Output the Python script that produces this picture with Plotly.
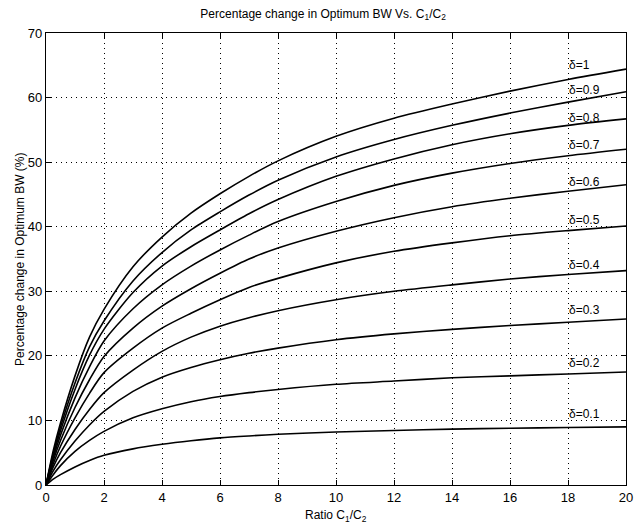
import plotly.graph_objects as go

ratio = [0, 0.25, 0.5, 1, 1.5, 2, 3, 4, 5, 6, 7, 8, 10, 12, 14, 16, 18, 20]

deltas = ["1", "0.9", "0.8", "0.7", "0.6", "0.5", "0.4", "0.3", "0.2", "0.1"]

d10 = [0, 5.3, 9.6, 16.9, 22.9, 27.2, 33.8, 38.4, 42.1, 45.1, 47.8, 50.2, 54.0, 56.8, 59.0, 61.0, 62.8, 64.4]
d09 = [0, 4.9, 9.0, 15.8, 21.4, 25.4, 31.6, 36.0, 39.5, 42.3, 44.9, 47.2, 50.8, 53.5, 55.7, 57.6, 59.3, 60.9]
d08 = [0, 4.6, 8.4, 14.8, 20.1, 24.1, 29.8, 33.9, 36.9, 39.5, 42.0, 44.2, 47.8, 50.5, 52.7, 54.4, 55.7, 56.7]
d07 = [0, 4.2, 7.7, 13.5, 18.3, 22.3, 27.3, 31.0, 33.9, 36.4, 38.7, 40.8, 43.9, 46.4, 48.3, 49.8, 51.0, 52.0]
d06 = [0, 3.8, 6.9, 12.0, 16.3, 19.9, 24.3, 27.7, 30.4, 32.8, 35.0, 36.7, 39.3, 41.4, 43.1, 44.4, 45.5, 46.5]
d05 = [0, 3.3, 6.0, 10.4, 14.2, 17.4, 21.2, 24.3, 26.6, 28.7, 30.6, 32.0, 34.4, 36.2, 37.5, 38.6, 39.4, 40.1]
d04 = [0, 2.8, 5.0, 8.6, 11.7, 14.3, 17.8, 20.7, 22.9, 24.6, 25.9, 27.0, 28.7, 30.0, 31.0, 31.9, 32.6, 33.2]
d03 = [0, 2.2, 3.9, 6.8, 9.3, 11.4, 14.5, 16.7, 18.2, 19.4, 20.4, 21.2, 22.5, 23.4, 24.1, 24.7, 25.2, 25.7]
d02 = [0, 1.6, 3.0, 5.2, 6.9, 8.3, 10.4, 11.8, 12.9, 13.7, 14.3, 14.8, 15.6, 16.1, 16.6, 16.9, 17.2, 17.5]
d01 = [0, 0.9, 1.6, 2.8, 3.8, 4.6, 5.6, 6.3, 6.85, 7.3, 7.6, 7.85, 8.2, 8.45, 8.65, 8.8, 8.9, 9.0]

series = [d10, d09, d08, d07, d06, d05, d04, d03, d02, d01]

label_x = 17.95
label_y = [65.0, 61.2, 56.9, 52.7, 47.0, 41.0, 34.1, 27.1, 18.9, 11.0]

x_ticks = list(range(0, 21, 2))
y_ticks = list(range(0, 71, 10))

FONT = "Liberation Sans, Arial, Helvetica, sans-serif"

fig = go.Figure()
for name, ys in zip(deltas, series):
    fig.add_trace(go.Scatter(
        x=ratio, y=ys, mode="lines", name="δ=" + name,
        line=dict(color="black", width=1.6, shape="spline", smoothing=0.8),
        showlegend=False, hoverinfo="skip"))

for name, ly in zip(deltas, label_y):
    fig.add_annotation(x=label_x, y=ly, text="δ=" + name, showarrow=False,
                       xanchor="left", yanchor="middle",
                       font=dict(family=FONT, size=12, color="black"))

axis_common = dict(
    showline=True, linecolor="black", linewidth=1.2, mirror="ticks",
    ticks="inside", ticklen=5, tickcolor="black", tickwidth=1,
    showgrid=True, gridcolor="black", gridwidth=1, griddash="1px,4px",
    zeroline=False, tickfont=dict(family=FONT, size=13, color="black"),
    automargin=False,
)

fig.update_xaxes(range=[0, 20], tickvals=x_ticks, **axis_common)
fig.update_yaxes(range=[0, 70], tickvals=y_ticks, **axis_common)

# axis titles as annotations (placed in paper coordinates)
fig.add_annotation(xref="paper", yref="paper", x=0.5, y=-0.046,
                   xanchor="center", yanchor="top", showarrow=False,
                   text="Ratio C<sub>1</sub>/C<sub>2</sub>",
                   font=dict(family=FONT, size=12, color="black"))
fig.add_annotation(xref="paper", yref="paper", x=-0.045, y=0.5,
                   xanchor="center", yanchor="middle", showarrow=False,
                   textangle=-90,
                   text="Percentage change in Optimum BW (%)",
                   font=dict(family=FONT, size=12, color="black"))

fig.update_layout(
    width=634, height=515,
    margin=dict(l=38, r=16, t=25, b=38),
    paper_bgcolor="white", plot_bgcolor="white",
    title=dict(text="Percentage change in Optimum BW Vs. C<sub>1</sub>/C<sub>2</sub>",
               x=0.497, xanchor="center", y=0.997, yanchor="top",
               font=dict(family=FONT, size=12, color="black")),
    font=dict(family=FONT, size=12, color="black"),
)

fig.write_html("out.html")
